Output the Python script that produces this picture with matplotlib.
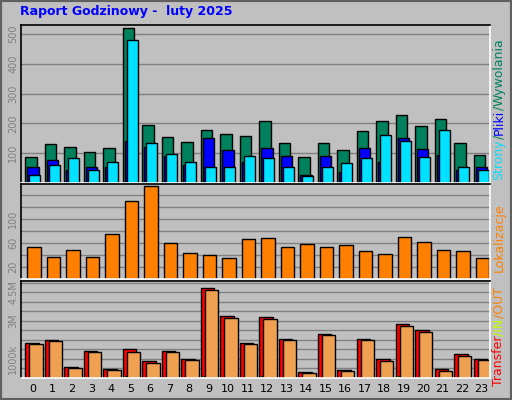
import matplotlib
matplotlib.use("Agg")
import matplotlib.pyplot as plt
import numpy as np

hours = list(range(24))
hits = [86,130,120,103,117,519,195,154,137,178,164,157,208,134,86,134,110,174,208,229,191,215,134,93]
files = [52,76,42,52,55,140,120,89,59,150,110,72,117,89,28,89,38,117,72,150,113,93,45,52]
pages = [28,59,83,45,72,480,134,96,69,52,55,89,83,55,25,52,66,83,161,140,86,178,55,45]
visits = [53,37,49,37,75,130,154,60,44,40,35,67,68,54,58,53,56,47,42,70,61,49,46,35]
transfer = [1.85,2.0,0.59,1.43,0.49,1.54,0.91,1.43,1.01,4.73,3.26,1.85,3.21,2.06,0.33,2.32,0.44,2.06,1.01,2.84,2.53,0.49,1.27,1.01]
out_ = [1.80,1.95,0.54,1.38,0.44,1.38,0.80,1.38,0.96,4.62,3.16,1.80,3.11,2.0,0.28,2.27,0.38,2.0,0.91,2.74,2.43,0.38,1.17,0.96]
in_ = [0.05,0.06,0.03,0.04,0.03,0.12,0.05,0.06,0.05,0.12,0.06,0.05,0.10,0.05,0.03,0.06,0.03,0.05,0.06,0.10,0.06,0.03,0.04,0.04]

BG = "#C0C0C0"
W, H = 512, 400
fig = plt.figure(figsize=(W/100, H/100), dpi=100, facecolor=BG)
x = np.array(hours)
xl = (-0.615, 23.44)

def ax_at(l, t, r, b):
    ax = fig.add_axes([l/W, 1-b/H, (r-l)/W, (b-t)/H], facecolor=BG)
    ax.set_xlim(*xl)
    for s in ("top", "left"):
        ax.spines[s].set_color("black")
    for s in ("bottom", "right"):
        ax.spines[s].set_color("white")
    for s in ax.spines.values():
        s.set_linewidth(1.2)
    ax.tick_params(axis="y", length=0, labelsize=7, labelcolor="#808080", pad=2)
    ax.set_axisbelow(True)
    ax.grid(axis="y", color="#808080", linewidth=1)
    return ax

ek = dict(edgecolor="black", linewidth=1)
a1 = ax_at(21, 25, 490, 183)
a1.bar(x-0.1, hits, 0.57, color="#00805C", **ek)
a1.bar(x, files, 0.57, color="#0000FF", **ek)
a1.bar(x+0.1, pages, 0.57, color="#00E0FF", **ek)
a1.set_ylim(0, 530)
a1.set_yticks([100,200,300,400,500])
a1.set_xticks([])

a2 = ax_at(21, 184, 490, 279)
a2.bar(x+0.05, visits, 0.7, color="#FF8000", **ek)
a2.set_ylim(0, 158)
a2.set_yticks([20,40,60,80,100,120,140])
a2.set_yticklabels(["20","","60","","100","",""])
a2.set_xticks([])

a3 = ax_at(21, 281, 490, 378)
a3.bar(x-0.05, transfer, 0.68, color="#FF0000", **ek)
a3.bar(x-0.3, in_, 0.12, color="#FFFF00", edgecolor="black", linewidth=0.5)
a3.bar(x+0.15, out_, 0.68, color="#EFA050", **ek)
a3.set_ylim(0, 5.1)
a3.set_yticks(np.arange(0.5, 5.01, 0.5))
a3.set_yticklabels(["", "1000k", "", "", "", "3M", "", "", "4.5M", ""])
a3.set_xticks(x)
a3.set_xticklabels([str(h) for h in hours], fontsize=8)
a3.tick_params(axis="x", length=0, pad=4)

for a in (a1, a2, a3):
    for lab in a.get_yticklabels():
        lab.set_rotation(90)
        lab.set_va("center")

fig.text(20/W, 1-12/H, "Raport Godzinowy -  luty 2025", color="#0000FF",
         fontsize=9, fontweight="bold", va="center", ha="left")

fig.canvas.draw()
r = fig.canvas.get_renderer()
def stack(parts, ybottom, xpix=499, fs=9):
    y = ybottom
    for txt, col in parts:
        t = fig.text(xpix/W, 1-y/H, txt, color=col, fontsize=fs, rotation=90,
                     ha="center", va="bottom", family="DejaVu Sans")
        bb = t.get_window_extent(r)
        y -= bb.height
stack([("Strony", "#00E0FF"), ("/", "#00805C"), ("Pliki", "#0000FF"), ("/", "#00805C"), ("Wywolania", "#00805C")], 180)
stack([("Lokalizacje", "#FF8000")], 272)
stack([("Transfer", "#FF0000"), ("/IN", "#C0FF00"), ("/OUT", "#FF8000")], 386)

fig.patches.append(plt.Rectangle((0, 0), 1, 1, transform=fig.transFigure, fill=False,
                                 edgecolor="#606060", linewidth=3))
fig.savefig("out.png", dpi=100, facecolor=BG)
